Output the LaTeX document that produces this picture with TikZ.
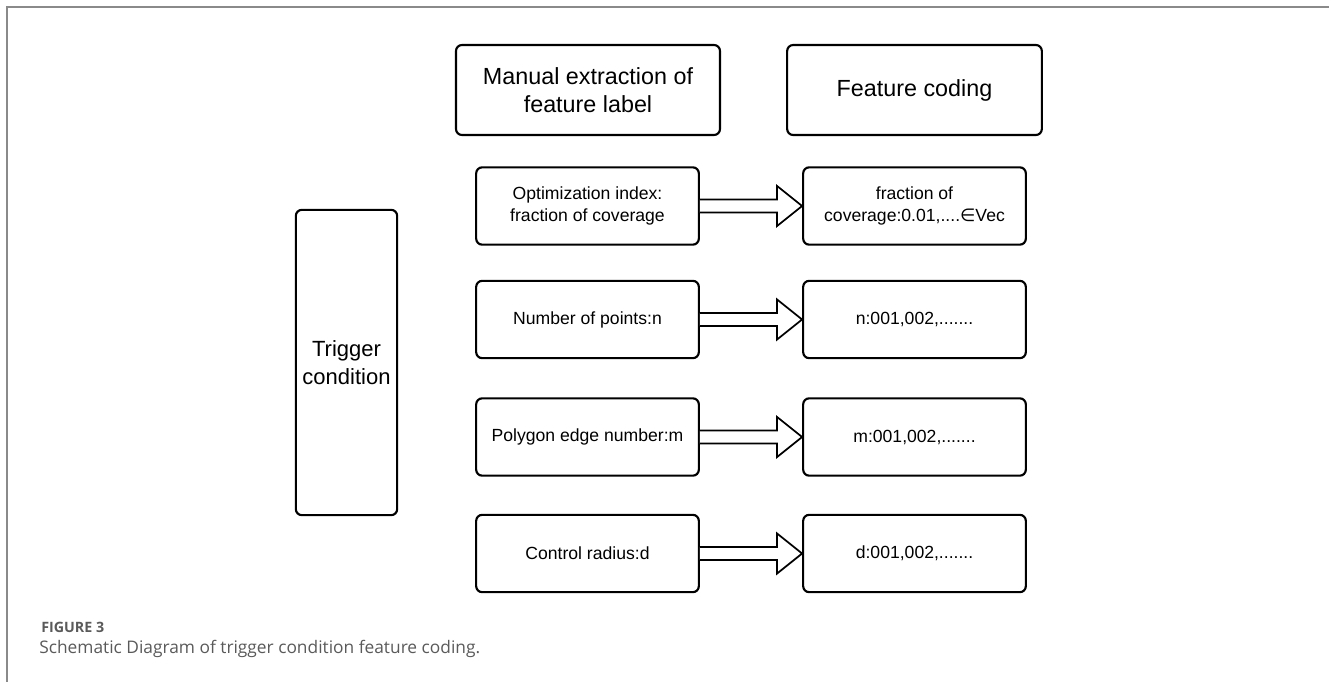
\documentclass[tikz,border=0pt]{standalone}
\usepackage{fontspec}
\setmainfont{Liberation Sans}
\newfontfamily\capfont{Open Sans}
\newfontfamily\symfont{DejaVu Sans}
\usetikzlibrary{calc}
\definecolor{framegray}{HTML}{8A8A8A}
\definecolor{capgray}{HTML}{5A5A5A}
\tikzset{
  box/.style={draw=black, line width=1.6pt, rounded corners=4.5pt, align=center, inner sep=0pt},
  bigbox/.style={box, minimum height=67.5pt, font=\fontsize{17.5}{21}\selectfont},
  rowbox/.style={box, minimum width=167pt, minimum height=58pt, font=\fontsize{13.2}{16.5}\selectfont},
  fatarrow/.style={draw=black, line width=1.3pt, fill=white, line join=miter}
}
\begin{document}
\begin{tikzpicture}[x=0.75pt, y=-0.75pt]
\useasboundingbox (0,0) rectangle (1329,682);
% frame
\draw[framegray, line width=1.5pt] (7,682) -- (7,7) -- (1329,7);
% header boxes
\node[bigbox, minimum width=198pt] (h1) at (588,90) {Manual extraction of\\feature label};
\node[bigbox, minimum width=191pt] (h2) at (914.5,90) {Feature coding};
% trigger
\node[box, minimum width=76pt, minimum height=229pt, font=\fontsize{16.5}{21}\selectfont] (tc) at (346.5,362.5) {Trigger\\condition};
% rows
\node[rowbox] (l1) at (587.5,206) {Optimization index:\\fraction of coverage};
\node[rowbox] (l2) at (587.5,319.5) {Number of points:n};
\node[rowbox] (l3) at (587.5,437) {Polygon edge number:m};
\node[rowbox] (l4) at (587.5,553.5) {Control radius:d};
\node[rowbox] (r1) at (914.5,206) {fraction of\\coverage:0.01,....{\symfont ∈}Vec};
\node[rowbox] (r2) at (914.5,319.5) {n:001,002,.......};
\node[rowbox] (r3) at (914.5,437) {m:001,002,.......};
\node[rowbox] (r4) at (914.5,553.5) {d:001,002,.......};
% arrows
\foreach \i in {1,2,3,4}{
  \draw[fatarrow] ($(l\i.east)+(0,-6.5)$) -- ($(r\i.west)+(-25,-6.5)$) -- ($(r\i.west)+(-25,-20)$) -- (r\i.west)
    -- ($(r\i.west)+(-25,20)$) -- ($(r\i.west)+(-25,6.5)$) -- ($(l\i.east)+(0,6.5)$);
}
% caption
\node[anchor=base west, inner sep=0pt, text=capgray, font=\capfont\bfseries\fontsize{10.7}{12}\selectfont] (fig) at (41,632) {FIGURE 3};
\node[anchor=base west, inner sep=0pt, text=capgray, font=\capfont\fontsize{13}{16}\selectfont] (cap) at (39,653) {Schematic Diagram of trigger condition feature coding.};
\end{tikzpicture}
\end{document}
